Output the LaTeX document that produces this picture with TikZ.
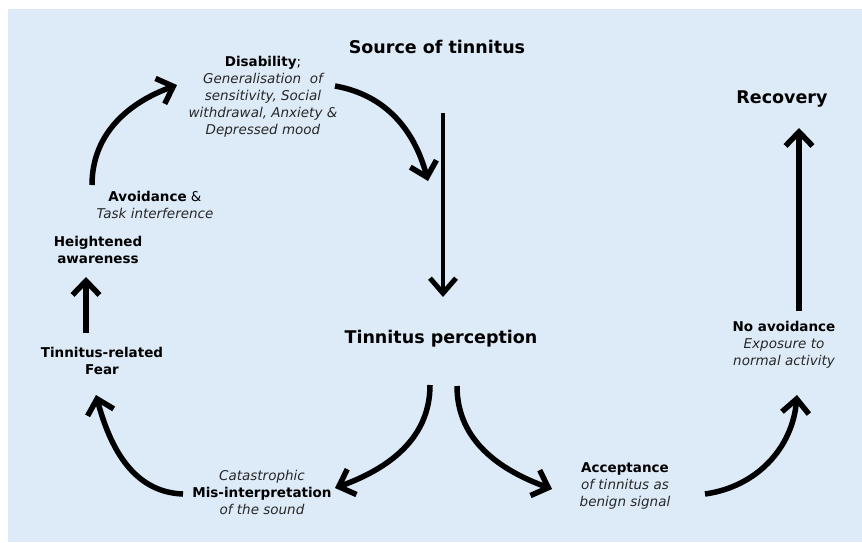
\documentclass[tikz,border=0pt]{standalone}
\usepackage{fontspec}
\setmainfont{DejaVu Sans}
\usepackage{tikz}
\usetikzlibrary{arrows.meta,positioning}
\definecolor{bgblue}{RGB}{221,234,247}
\definecolor{softblack}{RGB}{40,40,40}

\begin{document}
\begin{tikzpicture}[x=1pt,y=1pt,
		big/.style={font=\fontsize{17.5}{21}\selectfont\bfseries, inner sep=0pt},
		lab/.style={font=\fontsize{13.5}{17}\selectfont, align=center, inner sep=0pt},
		arr/.style={line width=5.5pt, -{Straight Barb[length=14pt,width=27pt]}},
		thinarr/.style={line width=4pt, -{Straight Barb[length=15pt,width=26pt,line width=5pt]}}]
		\useasboundingbox (0,0) rectangle (862,-542);
		\fill[bgblue] (8,-9) rectangle (862,-542);

		\node[big] (src) at (437,-47) {Source of tinnitus};
		\node[big] (rec) at (782,-99) {Recovery};
		\node[big] (perc) at (441,-339) {Tinnitus perception};

		\node[lab] (noav) at (784,-345) {\textbf{No avoidance}\\\textcolor{softblack}{\itshape Exposure to}\\\textcolor{softblack}{\itshape normal activity}};
		\node[lab] (acc) at (625,-486) {\textbf{Acceptance}\\\textcolor{softblack}{\itshape of tinnitus as}\\\textcolor{softblack}{\itshape benign signal}};
		\node[lab] (mis) at (262,-492) {\textcolor{softblack}{\itshape Catastrophic}\\\textbf{Mis-interpretation}\\\textcolor{softblack}{\itshape of the sound}};
		\node[lab, font=\fontsize{13.5}{17}\selectfont\bfseries] (fear) at (102,-361) {Tinnitus-related\\Fear};
		\node[lab, font=\fontsize{13.5}{17}\selectfont\bfseries] (aware) at (98,-250) {Heightened\\awareness};
		\node[lab] (avoid) at (155,-205) {\textbf{Avoidance} \&\\\textcolor{softblack}{\itshape Task interference}};
		\node[lab] (dis) at (263,-97) {\textbf{Disability};\\\textcolor{softblack}{\itshape Generalisation\ \ of}\\\textcolor{softblack}{\itshape sensitivity, Social}\\\textcolor{softblack}{\itshape withdrawal, Anxiety \&}\\\textcolor{softblack}{\itshape Depressed mood}};

		\draw[thinarr] ([shift={(6,-66)}]src.center) -- ([shift={(2,42)}]perc.center);
		\draw[arr] ([shift={(15,34)}]noav.center) -- ([shift={(17,-29)}]rec.center);
		\draw[arr] ([shift={(-16,28)}]fear.center) -- ([shift={(-12,-27)}]aware.center);

		\draw[arr] ([shift={(-63,20)}]avoid.center) to[out=90, in=200] ([shift={(-86,12)}]dis.center);
		\draw[arr] ([shift={(72,11)}]dis.center) to[out=-10, in=105] ([shift={(-13,158)}]perc.center);
		\draw[arr] ([shift={(-11,-46)}]perc.center) to[out=-90, in=20] ([shift={(73,4)}]mis.center);
		\draw[arr] ([shift={(-79,-2)}]mis.center) to[out=178, in=-75] ([shift={(-6,-34)}]fear.center);
		\draw[arr] ([shift={(16,-47)}]perc.center) to[out=-90, in=160] ([shift={(-73,-3)}]acc.center);
		\draw[arr] ([shift={(80,-8)}]acc.center) to[out=8, in=-95] ([shift={(13,-50)}]noav.center);
	\end{tikzpicture}
\end{document}
